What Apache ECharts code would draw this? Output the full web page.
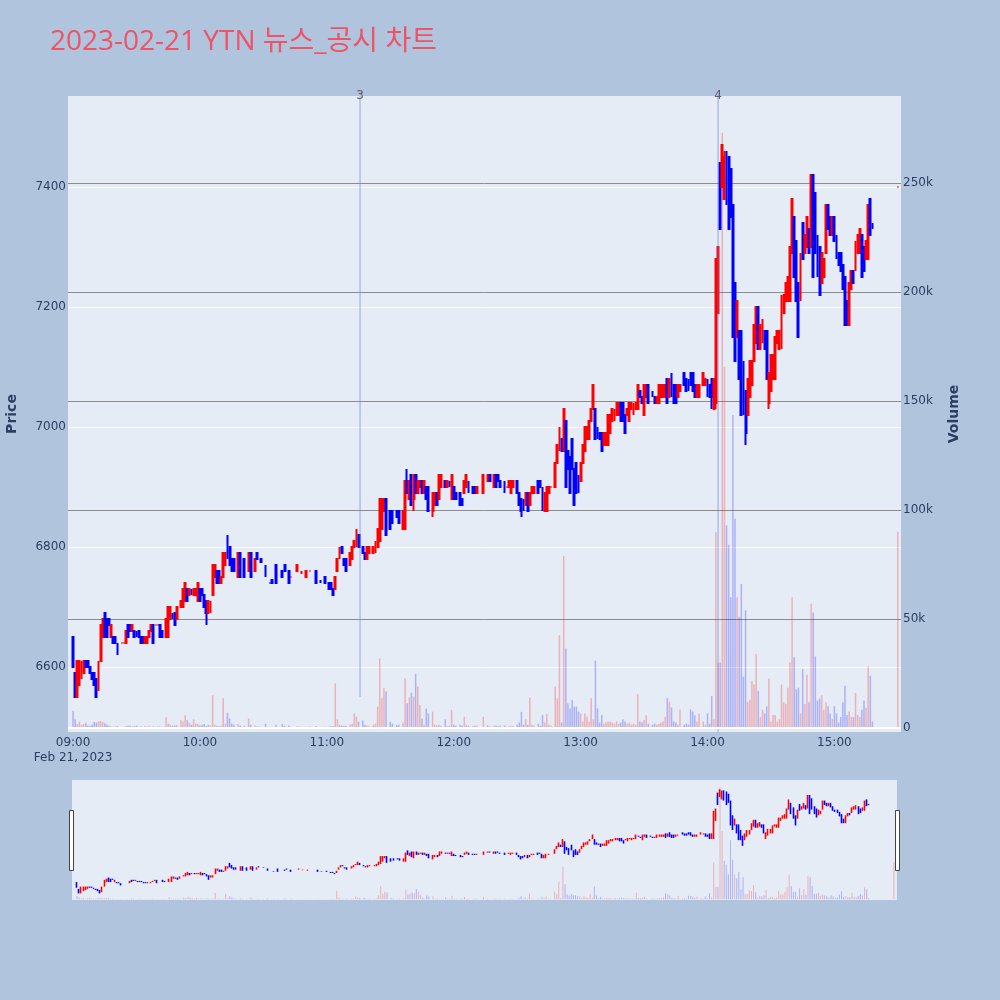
<!DOCTYPE html>
<html><head><meta charset="utf-8">
<script src="https://cdn.jsdelivr.net/npm/echarts@6/dist/echarts.min.js"></script>
<style>html,body{margin:0;padding:0;background:#B0C4DE}#c{width:1000px;height:1000px}</style>
</head><body><div id="c"></div>
<script>
// rows: [minute since 09:00, open, close, low, high, volume]
const segA=[
[0,6650,6600,6600,6650,7900],[1,6590,6550,6550,6590,4000],[2,6550,6610,6550,6610,1800],[3,6570,6610,6570,6610,2900],
[4,6580,6610,6580,6610,1500],[5,6590,6610,6590,6610,1800],[6,6610,6600,6600,6610,2400],[7,6610,6600,6600,6610,1200],
[8,6600,6590,6590,6600,1000],[9,6590,6580,6580,6590,1500],[10,6590,6570,6570,6590,2800],[11,6580,6550,6550,6580,2500],
[12,6560,6610,6560,6610,3000],[13,6610,6670,6610,6670,3200],[14,6650,6680,6650,6680,2800],[15,6690,6650,6650,6690,2200],
[16,6680,6650,6650,6680,1500],[17,6680,6670,6670,6680,1000],[18,6650,6670,6650,6670,800],[19,6650,6640,6640,6650,600],
[20,6650,6640,6640,6650,700],[21,6640,6620,6620,6640,900],[23,6640,6640,6640,6640,500],[24,6640,6640,6640,6640,600],
[25,6640,6660,6640,6660,800],[26,6670,6650,6650,6670,1200],[27,6670,6660,6660,6670,1000],[28,6660,6670,6660,6670,700],
[29,6660,6650,6650,6660,900],[30,6660,6650,6650,6660,1100],[31,6660,6650,6650,6660,600],[32,6650,6640,6640,6650,800],
[33,6650,6640,6640,6650,500],[34,6640,6650,6640,6650,900],[35,6640,6650,6640,6650,700],[36,6650,6660,6650,6660,1000],
[37,6660,6670,6660,6670,600],[38,6670,6640,6640,6670,800],[39,6670,6670,6670,6670,500],[40,6670,6670,6670,6670,900],
[41,6670,6650,6650,6670,700],[42,6660,6650,6650,6660,600],[44,6650,6680,6650,6680,4900],[45,6650,6700,6650,6700,2000],
[46,6680,6700,6680,6700,1500],[47,6690,6680,6680,6690,1000],[48,6690,6670,6670,6690,1200],[49,6680,6700,6680,6700,1400],
[51,6700,6710,6700,6710,3700],[52,6700,6730,6700,6730,3000],[53,6710,6740,6710,6740,5800],[54,6730,6710,6710,6730,3500],
[55,6720,6730,6720,6730,2500],[56,6730,6720,6720,6730,1500],[57,6720,6730,6720,6730,4000],[58,6720,6730,6720,6730,2000],
[59,6710,6740,6710,6740,1800],[60,6730,6710,6710,6730,1200],[61,6730,6720,6720,6730,1500],[62,6720,6700,6700,6720,1800],
[63,6710,6690,6670,6710,1000],[64,6690,6710,6690,6710,1500],[65,6690,6710,6690,6710,1200],[66,6720,6770,6720,6770,15000],
[67,6750,6770,6750,6770,1500],[68,6760,6740,6740,6760,1000],[69,6760,6740,6740,6760,800],[70,6740,6750,6740,6750,1200],
[71,6750,6790,6750,6790,13600],[72,6770,6790,6770,6790,2000],[73,6800,6780,6780,6820,7000],[74,6800,6770,6770,6800,4400],
[75,6780,6760,6760,6780,2000],[76,6780,6760,6760,6780,1500],[78,6750,6790,6750,6790,1800],[79,6790,6750,6750,6790,1200],
[81,6780,6750,6750,6780,1000],[83,6760,6790,6760,6790,4400],[84,6790,6750,6750,6790,1500],[86,6760,6780,6760,6780,1200],
[87,6790,6780,6780,6790,800],[89,6780,6775,6775,6780,600],[91,6770,6750,6750,6770,2000],[93,6740,6740,6740,6740,500],
[94,6745,6740,6740,6745,600],[96,6770,6740,6740,6770,1500],[99,6760,6750,6750,6760,1800],[100,6770,6760,6760,6770,1000],
[102,6760,6740,6740,6760,1200],[103,6750,6750,6750,6750,600],[106,6760,6770,6760,6770,900],[108,6755,6760,6755,6760,700],
[110,6750,6760,6750,6760,600],[112,6760,6760,6760,6760,800],[115,6760,6740,6740,6760,900],[117,6745,6740,6740,6745,500],
[119,6750,6740,6740,6750,700],[121,6740,6730,6730,6740,600],[122,6740,6730,6730,6740,800],[123,6730,6720,6720,6730,900],
[124,6730,6750,6730,6750,20500],[125,6760,6780,6760,6780,4000],[126,6780,6800,6780,6800,1500],[127,6800,6790,6790,6800,1200],
[128,6780,6770,6770,6780,900],[129,6780,6760,6760,6780,1000],[131,6770,6790,6770,6790,1500],[132,6780,6800,6780,6800,2000],
[133,6800,6810,6800,6810,6700],[134,6800,6830,6800,6830,5200]
];
const segB=[
[135,6820,6800,6800,6820,2900],[137,6800,6790,6790,6800,3400],[138,6790,6780,6780,6790,1500],[139,6780,6800,6780,6800,1200],
[140,6790,6800,6790,6800,1000],[142,6790,6800,6790,6800,1500],[143,6790,6810,6790,6810,2000],[144,6800,6830,6800,6830,9800],
[145,6810,6880,6810,6880,31900],[146,6830,6880,6830,6880,13600],[147,6860,6880,6860,6880,18200],[148,6880,6820,6820,6880,16700],
[150,6860,6830,6830,6860,2900],[151,6860,6840,6840,6860,2000],[153,6860,6850,6850,6860,1400],[154,6860,6840,6840,6860,1500],
[156,6830,6860,6830,6860,2500],[157,6830,6910,6830,6910,22800],[158,6910,6890,6890,6930,11300],[159,6880,6910,6880,6910,14000],
[160,6920,6870,6870,6920,16200],[161,6880,6920,6860,6920,14400],[162,6920,6890,6890,6920,24800],[163,6890,6910,6890,6910,19000],
[164,6900,6910,6900,6910,10600],[165,6910,6890,6890,6910,4400],[166,6890,6910,6890,6910,1500],[167,6900,6880,6880,6900,9000],
[168,6900,6860,6860,6900,6700],[170,6860,6890,6850,6890,7500],[171,6870,6890,6870,6890,1500],[172,6890,6870,6870,6890,1200],
[173,6880,6920,6880,6920,1500],[174,6900,6920,6900,6920,1000],[176,6910,6900,6900,6910,4000],[177,6900,6910,6900,6910,800],
[178,6910,6900,6900,6910,1000],[179,6880,6920,6880,6920,8300],[180,6900,6880,6880,6900,1500],[181,6890,6880,6880,6890,1000],
[183,6890,6870,6870,6890,1500],[184,6880,6870,6870,6880,1200],[185,6890,6910,6890,6910,5200],[186,6900,6920,6900,6920,1500],
[187,6910,6890,6890,6910,1000],[189,6900,6890,6890,6900,800],[190,6900,6890,6890,6900,1000],[191,6890,6900,6890,6900,1000],
[194,6890,6920,6890,6920,5200],[196,6910,6920,6910,6920,1400],[197,6920,6910,6910,6920,800],[199,6900,6920,6900,6920,1000],
[200,6920,6900,6900,6920,1200],[201,6920,6910,6910,6920,800],[202,6910,6900,6900,6910,1000],[204,6910,6890,6890,6910,1200],
[205,6900,6900,6900,6900,600],[206,6900,6910,6900,6910,800],[207,6890,6910,6890,6910,1000],[208,6900,6910,6900,6910,900],
[210,6910,6890,6890,6910,1500],[211,6890,6870,6870,6890,2500],[212,6880,6860,6850,6880,7400],[213,6880,6860,6860,6880,1500],
[214,6870,6890,6870,6890,4000],[215,6890,6860,6860,6890,1500],[216,6870,6890,6870,6890,14000],[217,6890,6900,6890,6900,1500],
[218,6890,6900,6890,6900,1200],[220,6910,6890,6890,6910,2000],[221,6910,6900,6900,6910,1000],[222,6900,6860,6860,6900,6000],
[223,6860,6890,6860,6890,2500],[224,6860,6900,6860,6900,6400],[225,6890,6900,6890,6900,1500],[226,6900,6900,6900,6900,1200],
[228,6900,6940,6900,6940,19000],[229,6940,6970,6940,6970,13600],[230,6960,7000,6960,7000,42600],[231,6980,6960,6960,6980,2500],
[232,6960,7030,6960,7030,78900],[233,7010,6900,6900,7010,36500],[234,6960,6930,6930,6960,11300],[235,6950,6890,6890,6950,9000],
[236,6980,6930,6930,6980,12800],[237,6930,6870,6870,6930,9800],[238,6940,6890,6890,6940,9800],[239,6920,6890,6890,6920,7500],
[240,6910,6940,6910,6940,6700],[241,6940,6970,6940,6970,3000],[242,6960,7000,6960,7000,6700],[243,6980,7000,6980,7000,5200],
[244,6980,7010,6980,7010,3000],[245,7010,7030,7010,7030,13600],[246,7030,7070,7030,7070,4000],[247,7030,6980,6980,7030,30900],
[248,7000,6980,6980,7000,9000],[249,6990,6980,6980,6990,2500],[250,6990,6960,6960,6990,6000],[251,6970,6990,6970,6990,2000],
[252,6970,6990,6970,6990,2500],[253,6970,7020,6970,7020,3000]
];
const segC=[
[254,6990,7020,6990,7020,3000],[255,7010,7030,7010,7030,2500],[256,7010,7030,7010,7030,2000],[257,7020,7040,7020,7040,3000],
[258,7020,7040,7020,7040,2000],[259,7040,7010,7010,7040,2500],[260,7040,7010,7010,7040,4000],[261,7020,6990,6990,7020,3000],
[262,7020,7030,7020,7030,2000],[263,7010,7040,7010,7040,2500],[264,7030,7040,7030,7040,1500],[265,7020,7040,7020,7040,2000],
[266,7030,7040,7030,7040,1500],[267,7030,7070,7030,7070,15500],[268,7060,7050,7050,7060,3000],[269,7050,7040,7040,7050,2500],
[270,7020,7070,7020,7070,3500],[271,7050,7070,7050,7070,5800],[272,7070,7040,7040,7070,2000],[274,7060,7050,7050,7060,1500],
[275,7050,7040,7040,7050,2000],[276,7040,7050,7040,7050,1500],[277,7040,7070,7040,7070,2000],[278,7050,7070,7050,7070,2500],
[279,7050,7070,7050,7070,3000],[280,7050,7070,7050,7070,5000],[281,7080,7040,7040,7080,13800],[282,7050,7080,7050,7080,12000],
[283,7090,7050,7050,7090,9400],[284,7070,7040,7040,7070,3000],[285,7070,7040,7040,7070,2500],[286,7050,7070,7050,7070,1500],
[287,7060,7070,7060,7070,8500],[289,7090,7070,7070,7090,1500],[290,7080,7060,7060,7080,2000],[291,7080,7060,7060,7080,1500],
[292,7090,7070,7070,7090,8500],[293,7090,7060,7060,7090,7600],[294,7070,7050,7050,7070,5800],[295,7050,7070,7050,7070,3000],
[296,7050,7070,7050,7070,6700],[298,7070,7090,7070,7090,3000],[299,7070,7080,7070,7080,1500],[300,7080,7050,7050,7080,6700],
[301,7070,7050,7050,7070,2000],[302,7080,7050,7030,7080,14700],[303,7030,7080,7030,7080,4000]
];
const segD=[
[304,7040,7280,7030,7280,89800],[305,7190,7300,7190,7300,30000],[306,7440,7330,7330,7440,30000],[307,7400,7470,7400,7470,273000],
[308,7380,7450,7380,7460,165700],[309,7460,7370,7370,7460,93000],[310,7450,7330,7330,7450,84000],[311,7430,7350,7350,7430,60000],
[312,7370,7150,7150,7370,143600],[313,7240,7110,7110,7240,96000],[314,7150,7210,7150,7210,60000],[315,7160,7080,7080,7160,51000],
[316,7160,7020,7020,7160,66000],[317,7110,7020,7020,7110,23500],[318,7060,6990,6970,7060,54000],[319,7020,7080,7020,7080,12000],
[320,7050,7110,7050,7110,13000],[321,7070,7110,7070,7110,21700],[322,7110,7170,7110,7170,20000],[323,7140,7200,7140,7200,34000],
[324,7200,7130,7130,7200,17000],[325,7130,7170,7130,7170,5000],[326,7140,7180,7140,7180,8400],[327,7160,7130,7130,7160,6700],
[328,7160,7080,7080,7160,10000],[329,7040,7090,7030,7090,22700],[330,7060,7120,7060,7120,3000],[331,7080,7120,7080,7120,6000],
[332,7080,7150,7080,7150,6000],[333,7140,7160,7140,7160,3000],[334,7130,7160,7130,7160,4000],[335,7130,7220,7130,7220,20000],
[336,7190,7220,7190,7220,11800],[337,7210,7240,7210,7240,11000],[338,7210,7250,7210,7250,18500],[339,7210,7300,7210,7300,30000],
[340,7290,7380,7290,7380,60000],[341,7350,7250,7250,7350,32500],[342,7310,7210,7210,7310,17700],[343,7240,7150,7150,7240,18500],
[344,7210,7290,7210,7290,6700],[345,7340,7280,7280,7340,27000],[346,7290,7320,7290,7320,11000],[347,7300,7350,7300,7350,24400],
[348,7330,7290,7290,7330,11800],[349,7300,7420,7300,7420,57000],[350,7420,7250,7250,7420,53000],[351,7390,7290,7290,7390,32800],
[352,7320,7250,7250,7320,12600],[353,7300,7220,7220,7300,13500],[354,7240,7290,7240,7290,15000],[355,7250,7280,7250,7280,8400],
[356,7290,7370,7290,7370,11800],[357,7370,7330,7330,7370,10000],[358,7350,7320,7320,7350,6700],[359,7320,7350,7320,7350,4200],
[360,7350,7310,7310,7350,10000],[361,7320,7280,7280,7320,6700],[362,7290,7270,7270,7290,2500],[363,7290,7260,7260,7290,5000],
[364,7270,7230,7230,7270,11800],[365,7250,7170,7170,7250,19400],[366,7210,7170,7170,7210,6000],[367,7170,7240,7170,7240,7600],
[368,7230,7260,7230,7260,5000],[369,7260,7240,7240,7260,5000],[370,7260,7310,7260,7310,16000],[371,7290,7320,7290,7320,6000],
[372,7290,7330,7290,7330,5000],[373,7320,7250,7250,7320,8400],[374,7300,7260,7260,7300,12600],[375,7280,7310,7280,7310,9300],
[376,7280,7370,7280,7370,28300],[377,7380,7320,7320,7380,24000],[378,7340,7330,7330,7340,3000],[390,7400,7400,7400,7400,90000]
];
const timeTicks=[0,60,120,180,240,300,360];
const priceTicks=[6600,6800,7000,7200,7400];
const volumeTicks=[0,50000,100000,150000,200000,250000];
const newsMinutes=[135.7,305.0];
const newsLabels=['3','4'];
const newsBottoms=[6550,6491.7];

const X_MIN=-2.4, X_MAX=391.5, P_MIN=6491.7, P_MAX=7551.7, V_MIN=-1835, V_MAX=289900;
const UP='#ff0000', DOWN='#0000ff', VUP='rgba(255,0,0,0.25)', VDOWN='rgba(0,0,255,0.25)';
const rows=segA.concat(segB,segC,segD);
const candleData=rows.map(r=>[r[0],r[1],r[2],r[3],r[4]]);
const volData=rows.map((r,i)=>{
  const up = r[2]>r[1] || (r[2]===r[1] && (i===0 || rows[i-1][2]<=r[2]));
  return {value:[r[0],r[5]], itemStyle:{color: up?VUP:VDOWN}};
});
function fmtTime(v){
  const h=9+Math.floor(v/60), mm=v%60;
  const s=(h<10?'0':'')+h+':'+(mm<10?'0':'')+mm;
  return v===0? s+'\nFeb 21, 2023' : s;
}
const TFONT='"Open Sans", "Noto Sans CJK KR", sans-serif';
const FONT='"DejaVu Sans", Verdana, sans-serif';
const TXT='#2a3f5f';
const chart=echarts.init(document.getElementById('c'),null,{renderer:'canvas'});
const candleStyle={color:UP,color0:DOWN,borderColor:UP,borderColor0:DOWN,borderWidth:2};
const series=[
  {type:'bar',name:'vol',xAxisIndex:0,yAxisIndex:1,data:volData,barWidth:1.5,z:1,silent:true,
   markLine:{silent:true,symbol:'none',label:{show:false},lineStyle:{color:'#ffffff',width:2,type:'solid'},data:[{yAxis:0}]}},
  {type:'candlestick',name:'price',xAxisIndex:0,yAxisIndex:0,data:candleData,encode:{x:0,y:[1,2,3,4]},barWidth:1.4,itemStyle:candleStyle,z:3},
  {type:'bar',xAxisIndex:1,yAxisIndex:3,data:volData,barWidth:1,silent:true,z:1},
  {type:'candlestick',xAxisIndex:1,yAxisIndex:2,data:candleData,encode:{x:0,y:[1,2,3,4]},barWidth:1,
   itemStyle:{color:UP,color0:DOWN,borderColor:UP,borderColor0:DOWN,borderWidth:1.6},z:3},
  {type:'scatter',xAxisIndex:0,yAxisIndex:0,symbolSize:1,clip:false,itemStyle:{color:'rgba(0,0,0,0)'},z:5,
   data:newsMinutes.map((m,i)=>({value:[m,P_MAX],name:newsLabels[i]})),
   label:{show:true,position:'inside',formatter:'{b}',color:'#444',fontSize:12,fontFamily:FONT}}
];
newsMinutes.forEach((m,i)=>{
  series.push({type:'line',xAxisIndex:0,yAxisIndex:0,data:[[m,newsBottoms[i]],[m,P_MAX]],symbol:'none',silent:true,
    lineStyle:{color:'rgba(90,120,230,0.4)',width:1.5},z:4});
});
chart.setOption({
  animation:false,
  backgroundColor:'#B0C4DE',
  title:{text:'2023-02-21 YTN 뉴스_공시 차트',left:45,top:23,textStyle:{color:'#EF5366',fontSize:28,fontWeight:'normal',fontFamily:TFONT}},
  grid:[
    {left:68,right:99,top:96,bottom:268,show:true,backgroundColor:'#E5ECF6',borderWidth:0,containLabel:false,outerBoundsMode:'none'},
    {left:72,right:103,top:780,bottom:100,show:true,backgroundColor:'#E5ECF6',borderWidth:0,containLabel:false,outerBoundsMode:'none'}
  ],
  xAxis:[
    {type:'value',gridIndex:0,min:X_MIN,max:X_MAX,axisLine:{show:false},axisTick:{show:false,customValues:timeTicks},splitLine:{show:false},
     axisLabel:{customValues:timeTicks,formatter:fmtTime,color:TXT,fontSize:12,fontFamily:FONT,margin:3,lineHeight:15}},
    {type:'value',gridIndex:1,min:X_MIN,max:X_MAX,show:false,splitLine:{show:false}}
  ],
  yAxis:[
    {type:'value',gridIndex:0,position:'left',min:P_MIN,max:P_MAX,axisLine:{show:false},
     axisTick:{show:false,customValues:priceTicks},
     axisLabel:{customValues:priceTicks,formatter:v=>String(v),color:TXT,fontSize:12,fontFamily:FONT,margin:2},
     splitLine:{show:true,lineStyle:{color:'#ffffff',width:1}},
     name:'Price',nameLocation:'middle',nameRotate:90,nameGap:49,nameTextStyle:{color:TXT,fontSize:14,fontWeight:'bold',fontFamily:FONT}},
    {type:'value',gridIndex:0,position:'right',min:V_MIN,max:V_MAX,axisLine:{show:false},
     axisTick:{show:false,customValues:volumeTicks},
     axisLabel:{customValues:volumeTicks,color:TXT,fontSize:12,fontFamily:FONT,margin:2,formatter:v=>v===0?'0':(v/1000)+'k'},
     splitLine:{show:true,lineStyle:{color:'#8c8c8c',width:1}},
     name:'Volume',nameLocation:'middle',nameRotate:90,nameGap:46,nameTextStyle:{color:TXT,fontSize:14,fontWeight:'bold',fontFamily:FONT}},
    {type:'value',gridIndex:1,min:P_MIN,max:P_MAX,show:false,splitLine:{show:false}},
    {type:'value',gridIndex:1,min:V_MIN,max:V_MAX,show:false,splitLine:{show:false}}
  ],
  graphic:[
    {type:'rect',shape:{x:69.5,y:810.5,width:4,height:60},style:{fill:'#ffffff',stroke:'#444',lineWidth:1},z:100},
    {type:'rect',shape:{x:895.5,y:810.5,width:4,height:60},style:{fill:'#ffffff',stroke:'#444',lineWidth:1},z:100}
  ],
  series:series
});
</script></body></html>
